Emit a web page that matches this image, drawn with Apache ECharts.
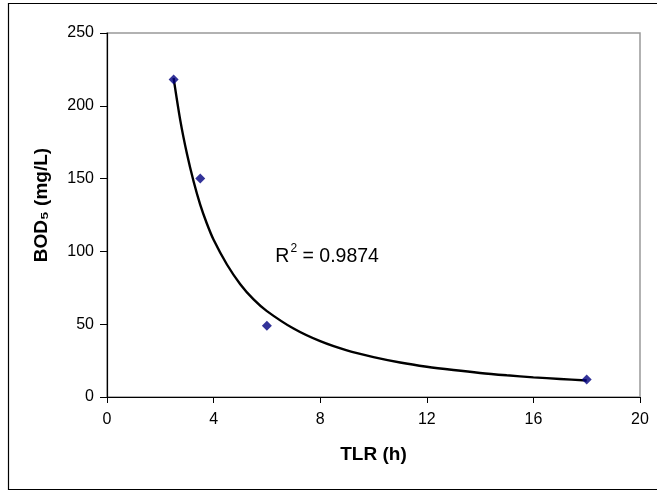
<!DOCTYPE html>
<html><head><meta charset="utf-8">
<script src="https://cdn.jsdelivr.net/npm/echarts@6/dist/echarts.min.js"></script>
<style>html,body{margin:0;padding:0;background:#fff}#c{width:657px;height:491px}</style>
</head><body><div id="c"></div>
<script>
// Measured data points
var tlr = [2.5, 3.5, 6, 18];
var bod = [218, 150, 49, 12];
// Trend line (power fit)
var trendX = [2.5, 2.75, 3, 3.25, 3.5, 3.75, 4, 4.5, 5, 5.5, 6, 7, 8, 9, 10, 11, 12, 13, 14, 15, 16, 17, 18];
var trendY = [219, 190, 167, 148, 132, 119, 108, 91, 77.5, 67, 59, 47, 38.3, 32, 27.4, 23.7, 20.8, 18.5, 16.5, 14.9, 13.5, 12.4, 11.3];
var xTicks = [0, 4, 8, 12, 16, 20];
var yTicks = [0, 50, 100, 150, 200, 250];
var xTitle = 'TLR (h)';
var yTitle = 'BOD\u2085 (mg/L)';
var r2Value = '0.9874';

var chart = echarts.init(document.getElementById('c'), null, {renderer: 'canvas'});
var font = 'Arial';
chart.setOption({
  animation: false,
  backgroundColor: '#fff',
  textStyle: {fontFamily: font},
  graphic: [
    {type: 'rect', shape: {x: 8.5, y: 3.5, width: 660, height: 486}, style: {fill: 'none', stroke: '#000', lineWidth: 1.2}, z: 0},
    {type: 'text', x: 42, y: 205, rotation: Math.PI / 2,
     style: {text: yTitle, fill: '#000', font: 'bold 19px ' + font, align: 'center', verticalAlign: 'middle'}}
  ],
  grid: {left: 107, top: 33, right: 17, bottom: 94, show: true, borderColor: '#999', borderWidth: 1.5, backgroundColor: '#fff'},
  xAxis: {
    type: 'value', min: xTicks[0], max: xTicks[xTicks.length - 1], interval: 4,
    name: xTitle, nameLocation: 'middle', nameGap: 48,
    nameTextStyle: {fontFamily: font, fontSize: 19, fontWeight: 'bold', color: '#000'},
    axisLine: {onZero: false, lineStyle: {color: '#000', width: 1.2}},
    axisTick: {show: true, inside: false, length: 6, lineStyle: {color: '#000'}},
    axisLabel: {fontFamily: font, fontSize: 16, color: '#000', margin: 15},
    splitLine: {show: false}
  },
  yAxis: {
    type: 'value', min: yTicks[0], max: yTicks[yTicks.length - 1], interval: 50,
    axisLine: {onZero: false, lineStyle: {color: '#000', width: 1.2}},
    axisTick: {show: true, inside: false, length: 7, lineStyle: {color: '#000'}},
    axisLabel: {fontFamily: font, fontSize: 16, color: '#000', margin: 13},
    splitLine: {show: false}
  },
  series: [
    {
      type: 'line', data: trendX.map(function (x, i) { return [x, trendY[i]]; }),
      smooth: 0.3, showSymbol: false, lineStyle: {color: '#000', width: 2.4}, z: 2,
      markPoint: {
        symbol: 'rect', symbolSize: 0,
        label: {
          show: true, position: 'inside',
          formatter: '{a|R}{s|2}{a| = ' + r2Value + '}',
          rich: {
            a: {fontFamily: font, fontSize: 19.5, color: '#000', verticalAlign: 'bottom', lineHeight: 24},
            s: {fontFamily: font, fontSize: 12, color: '#000', verticalAlign: 'top', lineHeight: 24, padding: [0, 0, 10, 1]}
          }
        },
        data: [{coord: [8.26, 98]}]
      }
    },
    {
      type: 'scatter', data: tlr.map(function (x, i) { return [x, bod[i]]; }),
      symbol: 'diamond', symbolSize: 10, itemStyle: {color: '#000080'}, z: 3
    }
  ]
});
</script></body></html>
